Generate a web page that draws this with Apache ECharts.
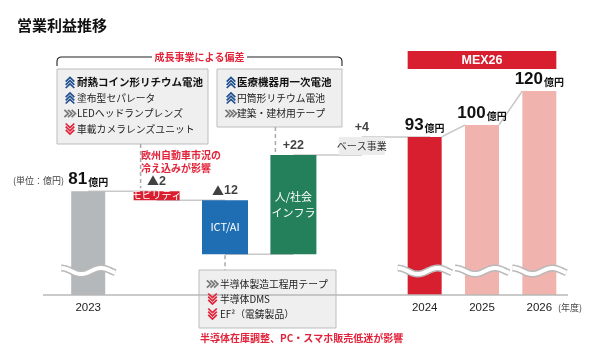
<!DOCTYPE html>
<html><head><meta charset="utf-8">
<script src="https://cdn.jsdelivr.net/npm/echarts@6/dist/echarts.min.js"></script>
<style>html,body{margin:0;padding:0;background:#fff}#c{width:600px;height:360px}</style>
</head><body><div id="c"></div>
<script>
// ---------- data ----------
const chartTitle = '営業利益推移';
const waterfallCats = ['2023', 'モビリティ', 'ICT/AI', '人/社会インフラ', 'ベース事業'];
const startValue = 81;
const deltaValues = [-2, -12, 22, 4];
const segmentLabels = ['モビリティ', 'ICT/AI', '人/社会\nインフラ', 'ベース事業'];
const forecastCats = ['2024', '2025', '2026'];
const forecastValues = [93, 100, 120];
const unitText = '(単位：億円)';
const yearUnit = '(年度)';

// ---------- styles ----------
const FONT = "'Liberation Sans','Noto Sans CJK JP',sans-serif";
const JP = "'Noto Sans CJK JP',sans-serif";
const segColors = ['#d81e2f', '#1f6db3', '#23805a', '#ececec'];
const segTextColors = ['#fff', '#fff', '#fff', '#333'];
const segFontSizes = [10, 11, 11, 10];
const forecastColors = ['#d71f2f', '#f0b3ad', '#f0b3ad'];
const RED = '#e2233a';

// ---------- derived ----------
let run = startValue;
const baseData = ['-'], visData = ['-'], deltaTops = [], connectors = [[0, startValue]];
deltaValues.forEach((d, i) => {
  const next = run + d;
  baseData.push(Math.min(run, next));
  visData.push({
    value: Math.abs(d),
    itemStyle: { color: segColors[i] },
    label: { color: segTextColors[i], fontSize: segFontSizes[i] }
  });
  deltaTops.push([i + 1, Math.max(run, next), d]);
  connectors.push([i + 1, next]);
  run = next;
});
const rightConnectors = forecastValues.slice(0, -1).map((v, i) => [i, v, forecastValues[i + 1]]);

const totalLabel = {
  show: true, position: 'top', distance: 3,
  formatter: p => '{n|' + (Array.isArray(p.value) ? p.value[1] : p.value) + '}{u|億円}',
  rich: {
    n: { fontSize: 17, fontWeight: 'bold', color: '#111', fontFamily: FONT, verticalAlign: 'bottom' },
    u: { fontSize: 10, fontWeight: 'bold', color: '#111', fontFamily: JP, verticalAlign: 'bottom', padding: [0, 0, 1, 1] }
  }
};

const chart = echarts.init(document.getElementById('c'), null, { renderer: 'canvas' });
chart.setOption({
  animation: false,
  textStyle: { fontFamily: FONT },
  title: { text: chartTitle, left: 12, top: 13, textStyle: { fontSize: 15, fontWeight: 'bold', color: '#111', fontFamily: JP } },
  grid: [
    { left: 54, width: 342, top: 105.4, bottom: 65 },
    { left: 396, width: 172, top: 74, bottom: 65 }
  ],
  xAxis: [
    { type: 'category', gridIndex: 0, data: waterfallCats, axisLine: { show: false }, axisTick: { show: false },
      axisLabel: { interval: 0, margin: 7, fontSize: 11.5, color: '#222', formatter: (v, i) => i === 0 ? v : '' } },
    { type: 'category', gridIndex: 0, data: waterfallCats, show: false },
    { type: 'category', gridIndex: 1, data: forecastCats, axisLine: { show: false }, axisTick: { show: false },
      axisLabel: { interval: 0, margin: 7, fontSize: 11.5, color: '#222' } }
  ],
  yAxis: [
    { type: 'value', gridIndex: 0, min: 58, max: 100, show: false, splitLine: { show: false } },
    { type: 'value', gridIndex: 1, min: 0, max: 130, show: false, splitLine: { show: false } }
  ],
  series: [
    { type: 'custom', name: 'conn', xAxisIndex: 1, yAxisIndex: 0, z: 1, silent: true,
      data: connectors, encode: { x: 0, y: 1 },
      renderItem: (params, api) => {
        const p1 = api.coord([api.value(0), api.value(1)]);
        const bw = api.size([1, 0])[0];
        return { type: 'line', shape: { x1: p1[0], y1: p1[1], x2: p1[0] + bw, y2: p1[1] },
          style: { stroke: '#c9c9c9', lineWidth: 1.5 } };
      } },
    { type: 'bar', name: 'start', xAxisIndex: 0, yAxisIndex: 0, z: 3, barWidth: 34,
      data: [startValue, '-', '-', '-', '-'], itemStyle: { color: '#b5b8bb' }, label: totalLabel },
    { type: 'bar', name: 'base', xAxisIndex: 1, yAxisIndex: 0, stack: 'wf', barWidth: 46, z: 3, silent: true,
      data: baseData, itemStyle: { color: 'rgba(0,0,0,0)' } },
    { type: 'bar', name: 'delta', xAxisIndex: 1, yAxisIndex: 0, stack: 'wf', barWidth: 46, z: 3,
      data: visData,
      label: { show: true, position: 'inside', fontFamily: JP, lineHeight: 16,
        formatter: p => segmentLabels[p.dataIndex - 1] || '' } },
    { type: 'scatter', name: 'deltaLabel', xAxisIndex: 1, yAxisIndex: 0, symbolSize: 0, z: 4,
      data: deltaTops,
      label: { show: true, position: 'top', distance: 3,
        formatter: p => p.value[2] < 0 ? '{t|▲}{n|' + Math.abs(p.value[2]) + '}' : '{n|+' + p.value[2] + '}',
        rich: { t: { fontSize: 12, color: '#111', fontFamily: JP }, n: { fontSize: 12.5, fontWeight: 'bold', color: '#111', fontFamily: FONT } } } },
    { type: 'custom', name: 'conn2', xAxisIndex: 2, yAxisIndex: 1, z: 1, silent: true,
      data: rightConnectors, encode: { x: 0, y: 1 },
      renderItem: (params, api) => {
        const i = api.value(0);
        const p1 = api.coord([i, api.value(1)]);
        const p2 = api.coord([i + 1, api.value(2)]);
        return { type: 'line', shape: { x1: p1[0] + 17, y1: p1[1], x2: p2[0] - 17, y2: p2[1] },
          style: { stroke: '#c9c9c9', lineWidth: 1.5 } };
      } },
    { type: 'bar', name: 'forecast', xAxisIndex: 2, yAxisIndex: 1, z: 3, barWidth: 34,
      data: forecastValues.map((v, i) => ({ value: v, itemStyle: { color: forecastColors[i] } })),
      label: totalLabel }
  ]
});

// ---------- annotations ----------
const L = (idx, v) => chart.convertToPixel({ xAxisIndex: 1, yAxisIndex: 0 }, [idx, v]);
const R = (idx, v) => chart.convertToPixel({ xAxisIndex: 2, yAxisIndex: 1 }, [idx, v]);
const g = [];
function txt(text, x, y, o) {
  g.push({ type: 'text', z: 20, style: Object.assign({ text, x, y, fill: '#222', fontSize: 9.5, fontFamily: JP,
    verticalAlign: 'middle', align: 'left' }, o || {}) });
}
function line(x1, y1, x2, y2, stroke, w, dash) {
  g.push({ type: 'line', z: 20, shape: { x1, y1, x2, y2 }, style: { stroke, lineWidth: w, lineDash: dash || null } });
}
function pline(points, stroke, w) {
  g.push({ type: 'polyline', z: 20, shape: { points }, style: { stroke, lineWidth: w, fill: null } });
}
function icon(kind, cx, cy) {
  const pts = [];
  if (kind === 'up' || kind === 'down') {
    const s = kind === 'up' ? 1 : -1;
    [-3.2, 0, 3.2].forEach(o => pts.push([[cx - 4.3, cy + o + 2.3 * s], [cx, cy + o - 1.8 * s], [cx + 4.3, cy + o + 2.3 * s]]));
  } else {
    [-3.6, 0, 3.6].forEach(o => pts.push([[cx + o - 2, cy - 3.6], [cx + o + 1.8, cy], [cx + o - 2, cy + 3.6]]));
  }
  const col = kind === 'up' ? '#1f4f8f' : kind === 'down' ? '#e2233a' : '#777';
  pts.forEach(p => pline(p, col, 1.7));
}
function box(x, y, w, h) {
  g.push({ type: 'rect', z: 19, shape: { x, y, width: w, height: h }, style: { fill: '#efefef', stroke: '#bdbdbd', lineWidth: 1 } });
}
function items(list, ix, tx, y0, dy) {
  list.forEach((it, i) => {
    const y = y0 + i * dy;
    icon(it[0], ix, y);
    txt(it[1], tx, y, it[2] ? { fontWeight: 'bold', fill: '#111', fontSize: 10.5 } : { fontSize: 9.8 });
  });
}

// baseline
line(43, 295, 568, 295, '#b8b8b8', 1.5);

// bracket
pline([[57, 66], [57, 61], [57.6, 58.8], [59.2, 57.6], [61, 57], [152, 57]], '#222', 1.1);
pline([[247, 57], [338, 57], [339.8, 57.6], [341.4, 58.8], [342, 61], [342, 66]], '#222', 1.1);
txt('成長事業による偏差', 199.5, 57, { align: 'center', fill: RED, fontWeight: 'bold', fontSize: 10 });

// left box
box(57, 69, 151, 75);
items([['up', '耐熱コイン形リチウム電池', true], ['up', '塗布型セパレータ'], ['right', 'LEDヘッドランプレンズ'], ['down', '車載カメラレンズユニット']], 70, 77, 82.5, 15.5);
// right box
box(217, 69, 125, 58);
items([['up', '医療機器用一次電池', true], ['up', '円筒形リチウム電池'], ['right', '建築・建材用テープ']], 231, 237, 82.5, 15.5);
// bottom box
box(199, 270, 137, 58);
items([['right', '半導体製造工程用テープ'], ['down', '半導体DMS'], ['down', 'EF²（電鋳製品）']], 212.5, 220, 284, 15);

// dashed leaders
const mob = L(1, 81), ict = L(2, 67), inf = L(3, 89);
line(mob[0] - 16, 144, mob[0] - 16, mob[1] - 3, '#aaa', 1.5, [4, 3]);
line(inf[0] - 18, 127, inf[0] - 18, inf[1] - 1, '#aaa', 1.5, [4, 3]);
line(ict[0], ict[1] + 1, ict[0], 270, '#aaa', 1.5, [4, 3]);

// red notes
txt('欧州自動車市況の', 141, 155, { fill: RED, fontWeight: 'bold', fontSize: 10 });
txt('冷え込みが影響', 141, 168, { fill: RED, fontWeight: 'bold', fontSize: 10 });
txt('半導体在庫調整、PC・スマホ販売低迷が影響', 200, 338, { fill: RED, fontWeight: 'bold', fontSize: 10 });

// MEX26 banner
const r0 = R(0, 0), r2 = R(2, 0);
g.push({ type: 'rect', z: 19, shape: { x: r0[0] - 17, y: 51, width: r2[0] - r0[0] + 34, height: 18 }, style: { fill: '#d71f2f' } });
txt('MEX26', (r0[0] + r2[0]) / 2, 60.5, { align: 'center', fill: '#fff', fontWeight: 'bold', fontSize: 12.5, fontFamily: FONT });

// unit text
const s0 = chart.convertToPixel({ xAxisIndex: 0, yAxisIndex: 0 }, [0, startValue]);
txt(unitText, 13, s0[1] - 11, { fontSize: 9, fill: '#444' });
txt(yearUnit, 558, 307.5, { fontSize: 9, fill: '#444' });

// waves (axis break marks)
function wave(cx, yc) {
  const pts = [];
  const xL = cx - 27, P = 40, A = 3;
  for (let x = xL; x <= cx + 27; x += 1) pts.push([x, yc - A * Math.cos(2 * Math.PI * (x - xL) / P)]);
  g.push({ type: 'polyline', z: 21, shape: { points: pts }, style: { stroke: '#b9b9b9', lineWidth: 7, fill: null } });
  g.push({ type: 'polyline', z: 22, shape: { points: pts }, style: { stroke: '#fff', lineWidth: 4, fill: null } });
}
wave(s0[0], 271);
forecastValues.forEach((v, i) => wave(R(i, 0)[0], 271));

chart.setOption({ graphic: { elements: g } });
</script></body></html>
